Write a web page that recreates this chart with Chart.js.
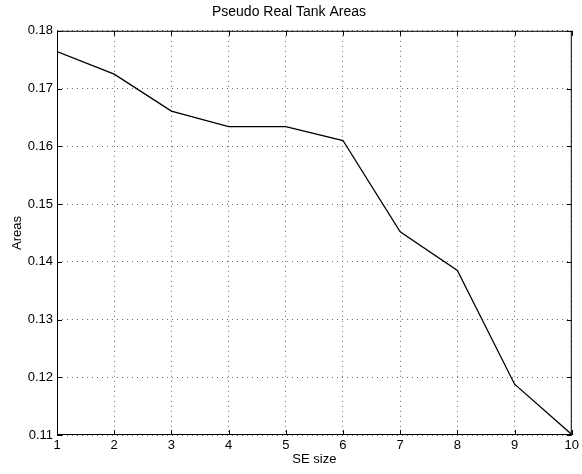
<!DOCTYPE html>
<html lang="en">
  <head>
    <meta charset="UTF-8" />
    <title>Pseudo Real Tank Areas</title>
    <script src="https://cdn.jsdelivr.net/npm/chart.js"></script>
    <style>
      body { margin: 0; background: #fff; }
      #wrap { width: 582px; height: 474px; }
    </style>
  </head>
  <body>
    <div id="wrap"><canvas id="tank"></canvas></div>
    <script>
      // values
      var seSize = [1, 2, 3, 4, 5, 6, 7, 8, 9, 10];
      var areas = [0.1764, 0.1725, 0.1661, 0.1634, 0.1634, 0.161, 0.1452, 0.1385, 0.1188, 0.1101];
      var yTicks = [0.11, 0.12, 0.13, 0.14, 0.15, 0.16, 0.17, 0.18];

      var points = seSize.map(function (s, i) {
        return { x: s, y: areas[i] };
      });

      // box round the plot and inward ticks on all four sides
      var boxTicks = {
        id: "boxTicks",
        afterDraw: function (chart) {
          var ctx = chart.ctx;
          var a = chart.chartArea;
          var xs = chart.scales.x;
          var ys = chart.scales.y;
          ctx.save();
          ctx.strokeStyle = "#000";
          ctx.lineWidth = 1;
          ctx.strokeRect(a.left + 0.5, a.top + 0.5, a.right - a.left - 1, a.bottom - a.top - 1);
          ctx.beginPath();
          seSize.forEach(function (v) {
            var px = Math.round(xs.getPixelForValue(v)) + 0.5;
            ctx.moveTo(px, a.bottom);
            ctx.lineTo(px, a.bottom - 5);
            ctx.moveTo(px, a.top);
            ctx.lineTo(px, a.top + 5);
          });
          yTicks.forEach(function (v) {
            var py = Math.round(ys.getPixelForValue(v)) + 0.5;
            ctx.moveTo(a.left, py);
            ctx.lineTo(a.left + 5, py);
            ctx.moveTo(a.right, py);
            ctx.lineTo(a.right - 5, py);
          });
          ctx.stroke();
          ctx.restore();
        },
      };

      Chart.defaults.font.family = "'Liberation Sans', Arial, sans-serif";
      Chart.defaults.font.size = 13;
      Chart.defaults.color = "#000";

      new Chart(document.getElementById("tank"), {
        type: "line",
        data: {
          datasets: [
            {
              data: points,
              borderColor: "#000",
              borderWidth: 1.3,
              pointRadius: 0,
              tension: 0,
              fill: false,
            },
          ],
        },
        options: {
          responsive: true,
          maintainAspectRatio: false,
          animation: false,
          layout: { padding: { left: 4, right: 8, top: 0, bottom: 2 } },
          plugins: {
            legend: { display: false },
            tooltip: { enabled: false },
            title: {
              display: true,
              text: "Pseudo Real Tank Areas",
              font: { size: 14, weight: "normal" },
              padding: { top: 4, bottom: 10 },
            },
          },
          scales: {
            x: {
              type: "linear",
              min: 1,
              max: 10,
              ticks: { stepSize: 1, padding: 3 },
              grid: { color: "#666", lineWidth: 1, drawTicks: false },
              border: { display: false, dash: [1, 4] },
              title: { display: true, text: "SE size", padding: { top: 0, bottom: 5 } },
              afterFit: function (s) { s.height = 37; },
            },
            y: {
              min: 0.11,
              max: 0.18,
              ticks: {
                stepSize: 0.01,
                padding: 4,
                callback: function (v) { return v.toFixed(2); },
              },
              grid: { color: "#666", lineWidth: 1, drawTicks: false },
              border: { display: false, dash: [1, 4] },
              title: { display: true, text: "Areas", padding: { top: 6, bottom: 0 } },
              afterFit: function (s) { s.width = 53; },
            },
          },
        },
        plugins: [boxTicks],
      });
    </script>
  </body>
</html>
